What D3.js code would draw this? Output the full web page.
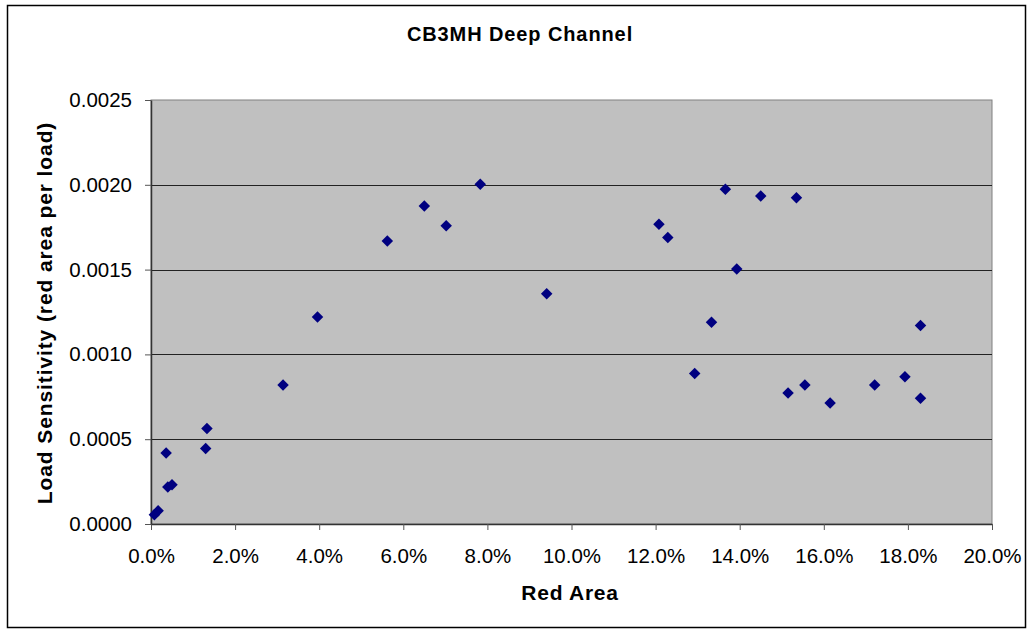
<!DOCTYPE html>
<html>
<head>
<meta charset="utf-8">
<script src="https://cdn.jsdelivr.net/npm/d3@7"></script>
<style>
  body { margin: 0; background: #fff; }
  svg { font-family: "Liberation Sans", Arial, sans-serif; }
</style>
</head>
<body>
<svg id="chart"></svg>
<script>
// red area (fraction) and load sensitivity
let redArea = [0.0008, 0.0017, 0.0036, 0.0040, 0.0050, 0.0130, 0.0133, 0.0314, 0.0396,
               0.0562, 0.0650, 0.0702, 0.0783, 0.0941, 0.1208, 0.1229, 0.1293, 0.1333,
               0.1366, 0.1393, 0.1450, 0.1515, 0.1535, 0.1555, 0.1615, 0.1721, 0.1793,
               0.1830, 0.1830]
let sensitivity = [0.000055, 0.000078, 0.000418, 0.000218, 0.000232, 0.000445, 0.000563, 0.000819, 0.00122,
                   0.001669, 0.001875, 0.001758, 0.002003, 0.001357, 0.001768, 0.001689, 0.000887, 0.00119,
                   0.001974, 0.001504, 0.001934, 0.000772, 0.001924, 0.000819, 0.000713, 0.000819, 0.000868,
                   0.00117, 0.000742]

let xTicks = [0, 0.02, 0.04, 0.06, 0.08, 0.10, 0.12, 0.14, 0.16, 0.18, 0.20]
let yTicks = [0, 0.0005, 0.0010, 0.0015, 0.0020, 0.0025]

let points = redArea.map((x, i) => ({ x: x, y: sensitivity[i] }))

let width = 1031
let height = 634
let plot = { left: 151, right: 992, top: 100, bottom: 524 }

let svg = d3.select("#chart").attr("width", width).attr("height", height)

// outer frame
svg.append("rect")
    .attr("x", 7.5).attr("y", 5.5)
    .attr("width", 1018).attr("height", 622)
    .attr("fill", "#fff")
    .attr("stroke", "#000")
    .attr("stroke-width", 1.5)

let xScale = d3.scaleLinear().domain([0, 0.2]).range([plot.left, plot.right])
let yScale = d3.scaleLinear().domain([0, 0.0025]).range([plot.bottom, plot.top])

// plot background
svg.append("rect")
    .attr("x", plot.left).attr("y", plot.top)
    .attr("width", plot.right - plot.left).attr("height", plot.bottom - plot.top)
    .attr("fill", "#c0c0c0")
    .attr("stroke", "#808080")
    .attr("stroke-width", 1)

// gridlines
svg.append("g")
    .selectAll("line")
    .data(yTicks.slice(1, -1))
    .enter()
    .append("line")
    .attr("x1", plot.left).attr("x2", plot.right)
    .attr("y1", d => Math.round(yScale(d)) + 0.5)
    .attr("y2", d => Math.round(yScale(d)) + 0.5)
    .attr("stroke", "#222")
    .attr("stroke-width", 1)

let xAxis = d3.axisBottom(xScale)
    .tickValues(xTicks)
    .tickFormat(d3.format(".1%"))
    .tickSizeInner(6).tickSizeOuter(0).tickPadding(18)

let yAxis = d3.axisLeft(yScale)
    .tickValues(yTicks)
    .tickFormat(d3.format(".4f"))
    .tickSizeInner(6).tickSizeOuter(0).tickPadding(13)

let gx = svg.append("g")
    .attr("transform", "translate(0," + plot.bottom + ")")
    .call(xAxis)
gx.select(".domain").attr("stroke", "#333").attr("stroke-width", 1.5)
gx.selectAll(".tick line").attr("stroke", "#555")
gx.selectAll("text")
    .style("font-size", "20.5px")
    .style("font-family", "Liberation Sans, Arial, sans-serif")
    .attr("fill", "#000")

let gy = svg.append("g")
    .attr("transform", "translate(" + plot.left + ",0)")
    .call(yAxis)
gy.select(".domain").attr("stroke", "#333").attr("stroke-width", 1.5)
gy.selectAll(".tick line").attr("stroke", "#555")
gy.selectAll("text")
    .style("font-size", "20.5px")
    .style("font-family", "Liberation Sans, Arial, sans-serif")
    .attr("fill", "#000")

// points as diamonds
svg.append("g")
    .selectAll("path")
    .data(points)
    .enter()
    .append("path")
    .attr("d", d3.symbol().type(d3.symbolSquare).size(66))
    .attr("transform", d => "translate(" + xScale(d.x) + "," + yScale(d.y) + ") rotate(45)")
    .attr("fill", "#000080")

// titles
svg.append("text")
    .attr("x", 520).attr("y", 41)
    .attr("text-anchor", "middle")
    .style("font-size", "20px").style("font-weight", "bold")
    .style("letter-spacing", "0.9px")
    .text("CB3MH Deep Channel")

svg.append("text")
    .attr("x", 570).attr("y", 600)
    .attr("text-anchor", "middle")
    .style("font-size", "21px").style("font-weight", "bold")
    .style("letter-spacing", "0.75px")
    .text("Red Area")

svg.append("text")
    .attr("transform", "translate(52,313) rotate(-90)")
    .attr("text-anchor", "middle")
    .style("font-size", "21px").style("font-weight", "bold")
    .style("letter-spacing", "0.9px")
    .text("Load Sensitivity (red area per load)")
</script>
</body>
</html>
